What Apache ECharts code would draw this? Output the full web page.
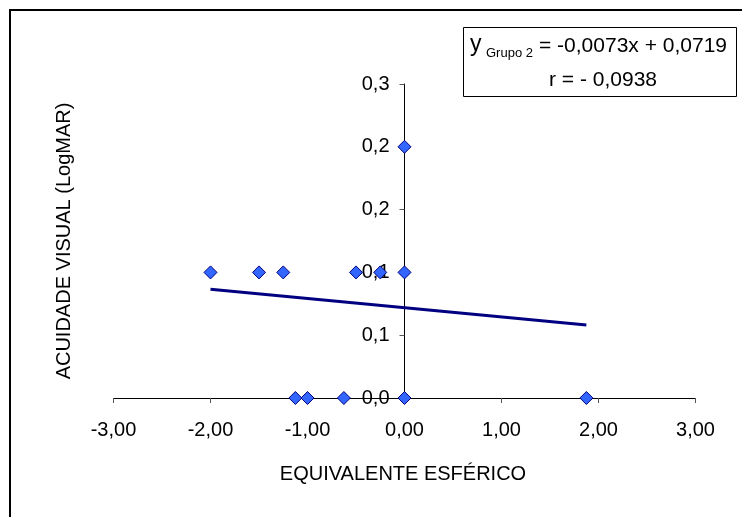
<!DOCTYPE html>
<html>
<head>
<meta charset="utf-8">
<script src="https://cdn.jsdelivr.net/npm/echarts@6/dist/echarts.min.js"></script>
<style>
  html, body { margin: 0; padding: 0; background: #fff; }
  #chart { width: 742px; height: 517px; }
</style>
</head>
<body>
<div id="chart"></div>
<script>
// pontos (equivalente esférico, acuidade visual LogMAR)
var esfX = [-2.0, -1.5, -1.25, -0.5, -0.25, 0.0, 0.0, -1.125, -1.0, -0.625, 0.0, 1.875];
var acuidadeY = [0.1, 0.1, 0.1, 0.1, 0.1, 0.1, 0.2, 0.0, 0.0, 0.0, 0.0, 0.0];
// linha de tendência, extremos
var trendX = [-2.0, 1.875];
var trendY = [0.0865, 0.0582];
// eixos
var xTicks = { min: -3, max: 3, interval: 1 };
var yTicks = { min: 0, max: 0.25, interval: 0.05 };
var equacao = ['y', 'Grupo 2', '= -0,0073x + 0,0719', 'r = - 0,0938'];

var fonte = "'Liberation Sans', Arial, sans-serif";
var pontos = esfX.map(function (x, i) { return [x, acuidadeY[i]]; });
var tendencia = trendX.map(function (x, i) { return [x, trendY[i]]; });

var myChart = echarts.init(document.getElementById('chart'));
myChart.setOption({
  backgroundColor: '#fff',
  animation: false,
  textStyle: { fontFamily: fonte },
  grid: { left: 113.5, right: 46.5, top: 84, bottom: 119, containLabel: false, outerBoundsMode: 'none' },
  xAxis: {
    type: 'value',
    min: xTicks.min, max: xTicks.max, interval: xTicks.interval,
    splitLine: { show: false },
    axisLine: { lineStyle: { color: '#000', width: 1 } },
    axisTick: { show: true, length: 5, lineStyle: { color: '#555' } },
    axisLabel: {
      color: '#000', fontSize: 20, fontFamily: fonte, margin: 22,
      formatter: function (v) { return v.toFixed(2).replace('.', ','); }
    }
  },
  yAxis: {
    type: 'value',
    min: yTicks.min, max: yTicks.max, interval: yTicks.interval,
    splitLine: { show: false },
    axisLine: { onZero: true, lineStyle: { color: '#000', width: 1 } },
    axisTick: { show: true, length: 5, lineStyle: { color: '#555' } },
    axisLabel: {
      // rótulos junto do eixo em x = 0
      color: '#000', fontSize: 20, fontFamily: fonte, margin: -276,
      formatter: function (v) { return (Math.round(v * 10 + 1e-9) / 10).toFixed(1).replace('.', ','); }
    }
  },
  series: [
    {
      type: 'line',
      data: tendencia,
      symbol: 'none',
      z: 2,
      lineStyle: { color: '#000080', width: 3 }
    },
    {
      type: 'scatter',
      data: pontos,
      symbol: 'diamond',
      symbolSize: 13,
      z: 3,
      itemStyle: { color: '#3366FF', borderColor: '#000080', borderWidth: 1, opacity: 1 }
    }
  ],
  graphic: [
    {
      type: 'rect', silent: true, z: 0,
      shape: { x: 10, y: 10, width: 800, height: 600 },
      style: { fill: 'none', stroke: '#000', lineWidth: 2 }
    },
    {
      type: 'rect', silent: true,
      shape: { x: 463.5, y: 27.5, width: 273, height: 69 },
      style: { fill: '#fff', stroke: '#000', lineWidth: 1 }
    },
    {
      type: 'text', silent: true, x: 470, y: 45,
      style: { text: equacao[0], font: '23px ' + fonte, fill: '#000', align: 'left', verticalAlign: 'middle' }
    },
    {
      type: 'text', silent: true, x: 486, y: 53,
      style: { text: equacao[1], font: '13px ' + fonte, fill: '#000', align: 'left', verticalAlign: 'middle' }
    },
    {
      type: 'text', silent: true, x: 539, y: 46.5,
      style: { text: equacao[2], font: '21px ' + fonte, fill: '#000', align: 'left', verticalAlign: 'middle' }
    },
    {
      type: 'text', silent: true, x: 603, y: 80.5,
      style: { text: equacao[3], font: '21px ' + fonte, fill: '#000', align: 'center', verticalAlign: 'middle' }
    },
    {
      type: 'text', silent: true, x: 403, y: 474,
      style: { text: 'EQUIVALENTE ESFÉRICO', font: '20px ' + fonte, fill: '#000', align: 'center', verticalAlign: 'middle' }
    },
    {
      type: 'text', silent: true, x: 64, y: 241, rotation: Math.PI / 2,
      style: { text: 'ACUIDADE VISUAL (LogMAR)', font: '20px ' + fonte, fill: '#000', align: 'center', verticalAlign: 'middle' }
    }
  ]
});
</script>
</body>
</html>
